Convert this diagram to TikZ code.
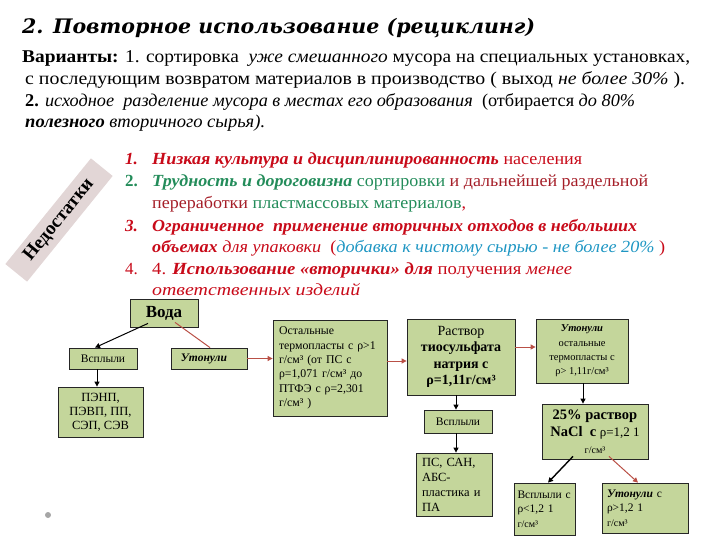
\documentclass[tikz,border=0pt]{standalone}
\usepackage{graphicx}
\usepackage{fontspec}
\setmainfont{Liberation Serif}
\newfontfamily\titlefont{DejaVu Serif}
\usetikzlibrary{arrows.meta}
\definecolor{boxgreen}{RGB}{196,214,155}
\definecolor{myred}{RGB}{200,10,25}
\definecolor{mydred}{RGB}{165,30,40}
\definecolor{mygreen}{RGB}{35,140,90}
\definecolor{mycyan}{RGB}{30,150,195}
\definecolor{arrbrown}{RGB}{185,80,70}
\definecolor{bandgray}{RGB}{226,214,214}
\newsavebox\fitbox
\newcommand\fitline[2]{\sbox\fitbox{#2}\pgfmathsetmacro\fitfac{#1/\the\wd\fitbox}\scalebox{\fitfac}[1]{\usebox\fitbox}}
\tikzset{
  txt/.style={inner sep=0pt, anchor=base west, font=\fontsize{18}{20}\selectfont},
  lst/.style={inner sep=0pt, anchor=base west, font=\fontsize{17}{20}\selectfont},
  box/.style={draw=black!85, fill=boxgreen, line width=0.8pt, inner sep=2pt, align=center},
  arr/.style={-{Triangle[length=5pt,width=5pt]}, line width=1pt},
  barr/.style={arr, draw=arrbrown, color=arrbrown},
}
\begin{document}
\begin{tikzpicture}[x=1pt,y=-1pt]
\useasboundingbox (0,0) rectangle (720,540);
% title and variants
\node[inner sep=0pt, anchor=base west, font=\fontsize{20}{24}\selectfont\titlefont\bfseries\itshape] (title) at (22,34)
  {\fitline{513}{2. Повторное использование (рециклинг)}};
\node[txt] (v1) at (22,63) {\fitline{668}{\textbf{Варианты:} 1. сортировка \ \textit{уже смешанного} мусора на специальных установках,}};
\node[txt] (v2) at (25,85) {\fitline{660}{с последующим возвратом материалов в производство ( выход \textit{не более 30\%} ).}};
\node[txt] (v3) at (25,107) {\fitline{610}{\textbf{2.} \textit{исходное\ \ разделение мусора в местах его образования}\ \ (отбирается \textit{до 80\%}}};
\node[txt] (v4) at (25,128) {\fitline{240}{\textbf{\textit{полезного}} \textit{вторичного сырья).}}};
% disadvantages band
\node[rotate=51, fill=bandgray, minimum width=136, minimum height=28, inner sep=0pt,
  font=\fontsize{19}{20}\selectfont\bfseries] (ned) at (59,220) {Недостатки};
% list
\node[lst] (n1) at (125,165) {\textcolor{myred}{\textbf{\textit{1.}}}};
\node[lst] (l1) at (152,165) {\fitline{430}{\color{myred}\textbf{\textit{Низкая культура и дисциплинированность}} населения}};
\node[lst] (n2) at (125,187) {\textcolor{mygreen}{\textbf{2.}}};
\node[lst] (l2) at (152,187) {\fitline{496}{\textcolor{mygreen}{\textbf{\textit{Трудность и дороговизна}} сортировки} \textcolor{mydred}{и дальнейшей раздельной}}};
\node[lst] (l3) at (152,209) {\fitline{314}{\textcolor{mydred}{переработки} \textcolor{mygreen}{пластмассовых материалов}\textcolor{myred}{,}}};
\node[lst] (n3) at (125,231) {\textcolor{myred}{\textbf{\textit{3.}}}};
\node[lst] (l4) at (152,231) {\fitline{485}{\color{myred}\textbf{\textit{Ограниченное\ \ применение вторичных отходов в небольших}}}};
\node[lst] (l5) at (152,252) {\fitline{513}{\textcolor{myred}{\textbf{\textit{объемах}} \textit{для упаковки}\ \ (}\textcolor{mycyan}{\textit{добавка к чистому сырью - не более 20\%}} \textcolor{myred}{)}}};
\node[lst] (n4) at (125,274) {\textcolor{myred}{4.}};
\node[lst] (l6) at (152,274) {\fitline{420}{\color{myred}4. \textbf{\textit{Использование «вторички» для}} получения \textit{менее}}};
\node[lst] (l7) at (152,295) {\fitline{208}{\color{myred}\textit{ответственных изделий}}};
% boxes
\node[box, minimum width=68, minimum height=28, font=\fontsize{17}{18}\selectfont\bfseries] (voda) at (164,313) {Вода};
\node[box, minimum width=68, minimum height=21, font=\fontsize{11.5}{13}\selectfont] (vspl1) at (103,358.5) {Всплыли};
\node[box, minimum width=85, minimum height=50, font=\fontsize{12.5}{14}\selectfont] (penp) at (100.5,412) {ПЭНП,\\ПЭВП, ПП,\\СЭП, СЭВ};
\node[box, minimum width=76, minimum height=21, font=\fontsize{11.5}{13}\selectfont\bfseries\itshape] (uton1) at (209,358.5) {\hspace*{-10pt}Утонули};
\node[box, minimum width=114, minimum height=96, text width=102, align=left, font=\fontsize{11.8}{14.3}\selectfont] (ostal) at (330,368)
  {Остальные\\термопласты с ρ>1\\г/см³ (от ПС с\\ρ=1,071 г/см³ до\\ПТФЭ с ρ=2,301\\г/см³ )};
\node[box, minimum width=108, minimum height=76, font=\fontsize{14}{16.5}\selectfont] (rastvor) at (461,357)
  {Раствор\\\textbf{тиосульфата}\\\textbf{натрия с}\\\textbf{ρ=1,11г/см³}};
\node[box, minimum width=92, minimum height=64, font=\fontsize{10.5}{14.3}\selectfont] (uton2) at (582,351)
  {\textbf{\textit{Утонули}}\\остальные\\термопласты с\\ρ> 1,11г/см³};
\node[box, minimum width=68, minimum height=23, font=\fontsize{11.5}{13}\selectfont] (vspl2) at (458,421.5) {Всплыли};
\node[box, minimum width=76, minimum height=63, text width=64, align=left, font=\fontsize{12.5}{15}\selectfont] (ps) at (454,484.5)
  {ПС, САН,\\АБС-\\пластика и\\ПА};
\node[box, minimum width=106, minimum height=55, font=\fontsize{14.5}{17}\selectfont] (nacl) at (595,431.5)
  {\textbf{25\% раствор}\\\textbf{NaCl\ \ с} {\fontsize{13}{17}\selectfont ρ=1,2 1}\\{\fontsize{10}{13}\selectfont г/см³}};
\node[box, minimum width=61, minimum height=52, text width=54, inner sep=1pt, align=left, font=\fontsize{11.5}{14.5}\selectfont] (vspl3) at (544.5,509)
  {Всплыли~с\\ρ<1,2 1\\{\fontsize{10}{14.5}\selectfont г/см³}};
\node[box, minimum width=86, minimum height=50, text width=76, align=left, font=\fontsize{11.5}{14.5}\selectfont] (uton3) at (645,508)
  {\textbf{\textit{Утонули}} с\\ρ>1,2 1\\{\fontsize{10}{14.5}\selectfont г/см³}};
% connectors
\draw[arr] ([xshift=-16pt,yshift=4pt]voda.south) -- ([xshift=-8pt]vspl1.north);
\draw[draw=arrbrown, line width=1pt] ([xshift=11pt,yshift=5pt]voda.south) -- ([xshift=1pt]uton1.north);
\draw[arr] ([xshift=-6pt]vspl1.south) -- ([xshift=-3.5pt]penp.north);
\draw[barr] (uton1.east) -- (ostal.west |- uton1.east);
\draw[barr] ([yshift=7pt]ostal.east) -- ([yshift=-4pt]rastvor.west);
\draw[barr] ([yshift=10pt]rastvor.east) -- ([yshift=4pt]uton2.west);
\draw[arr] ([xshift=-5pt]rastvor.south) -- ([xshift=-2pt]vspl2.north);
\draw[arr] ([xshift=-2pt]vspl2.south) -- ([xshift=2pt]ps.north);
\draw[arr] ([xshift=1pt]uton2.south) -- ([xshift=-12pt]nacl.north);
\draw[arr, line width=1.4pt] ([xshift=-22pt,yshift=3pt]nacl.south) -- ([xshift=3.5pt]vspl3.north);
\draw[barr] ([xshift=14pt,yshift=3pt]nacl.south) -- ([xshift=-7pt]uton3.north);
% dot
\fill[gray!70] (48,515) circle (3);
\end{tikzpicture}
\end{document}
